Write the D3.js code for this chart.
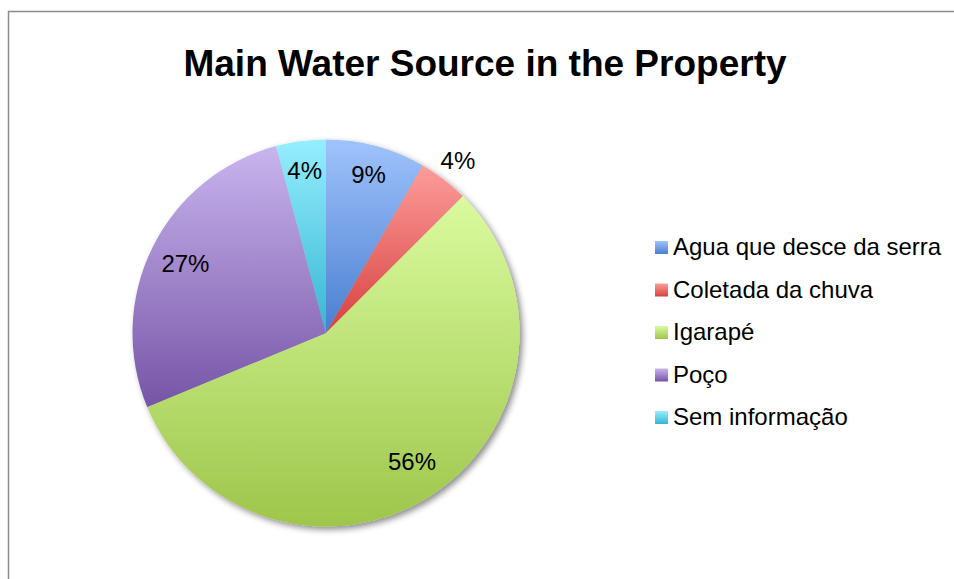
<!DOCTYPE html>
<html>
<head>
<meta charset="utf-8">
<script src="https://cdn.jsdelivr.net/npm/d3@7"></script>
<style>
  html, body { margin: 0; padding: 0; background: #fff; }
  svg { display: block; }
  text { font-family: "Liberation Sans", Arial, Helvetica, sans-serif; }
</style>
</head>
<body>
<svg id="chart" width="954" height="579"></svg>
<script>
const title = "Main Water Source in the Property";
const categories = ["Agua que desce da serra", "Coletada da chuva", "Igarapé", "Poço", "Sem informação"];
const values = [4, 2, 27, 13, 2];
const pctLabels = ["9%", "4%", "56%", "27%", "4%"];
const colorsTop = ["#9fc3fc", "#fd9d9b", "#dafb9e", "#c9b5ee", "#96eefe"];
const colorsBottom = ["#4a7ecf", "#d6413e", "#9dc64b", "#7654a6", "#35b6d3"];

const W = 954, H = 579;
const svg = d3.select("#chart");
const defs = svg.append("defs");

categories.forEach((c, i) => {
  const g = defs.append("linearGradient").attr("id", "grad" + i)
    .attr("x1", 0).attr("y1", 0).attr("x2", 0).attr("y2", 1);
  g.append("stop").attr("offset", "0%").attr("stop-color", colorsTop[i]);
  g.append("stop").attr("offset", "100%").attr("stop-color", colorsBottom[i]);
});

const f = defs.append("filter").attr("id", "shadow")
  .attr("x", "-10%").attr("y", "-10%").attr("width", "130%").attr("height", "130%");
f.append("feDropShadow").attr("dx", 3).attr("dy", 3).attr("stdDeviation", 3)
  .attr("flood-color", "#000").attr("flood-opacity", 0.45);

// frame
svg.append("path")
  .attr("d", `M8.5,${H + 5} L8.5,11.5 L${W + 5},11.5`)
  .attr("fill", "none").attr("stroke", "#8a8a8a").attr("stroke-width", 1.5);

svg.append("text").attr("x", 485).attr("y", 76)
  .attr("text-anchor", "middle").attr("font-weight", "bold").attr("font-size", 37)
  .attr("fill", "#000").text(title);

const cx = 326, cy = 333, r = 193.5;
const pie = d3.pie().sort(null).value(d => d)(values);
const arc = d3.arc().innerRadius(0).outerRadius(r);

const pieG = svg.append("g").attr("transform", `translate(${cx},${cy})`);
const slices = pieG.append("g").attr("filter", "url(#shadow)");
slices.selectAll("path").data(pie).join("path")
  .attr("d", arc)
  .attr("fill", (d, i) => `url(#grad${i})`);

// label radius factors (inside for most, outside for the small red slice)
const labelRadius = [0.85, 1.12, 0.80, 0.81, 0.845];
pieG.selectAll("text.pct").data(pie).join("text")
  .attr("class", "pct")
  .attr("transform", (d, i) => {
    const a = d3.arc().innerRadius(r * labelRadius[i]).outerRadius(r * labelRadius[i]);
    const p = a.centroid(d);
    return `translate(${p[0]},${p[1]})`;
  })
  .attr("text-anchor", "middle").attr("dy", "0.35em")
  .attr("font-size", 24).attr("fill", "#000")
  .text((d, i) => pctLabels[i]);

// legend
const legend = svg.append("g").attr("transform", "translate(655,241)");
const rowH = 42.5;
const items = legend.selectAll("g").data(categories).join("g")
  .attr("transform", (d, i) => `translate(0,${i * rowH})`);
items.append("rect").attr("width", 13).attr("height", 13)
  .attr("fill", (d, i) => `url(#grad${i})`);
items.append("text").attr("x", 18).attr("y", 14)
  .attr("font-size", 24).attr("fill", "#000").text(d => d);
</script>
</body>
</html>
